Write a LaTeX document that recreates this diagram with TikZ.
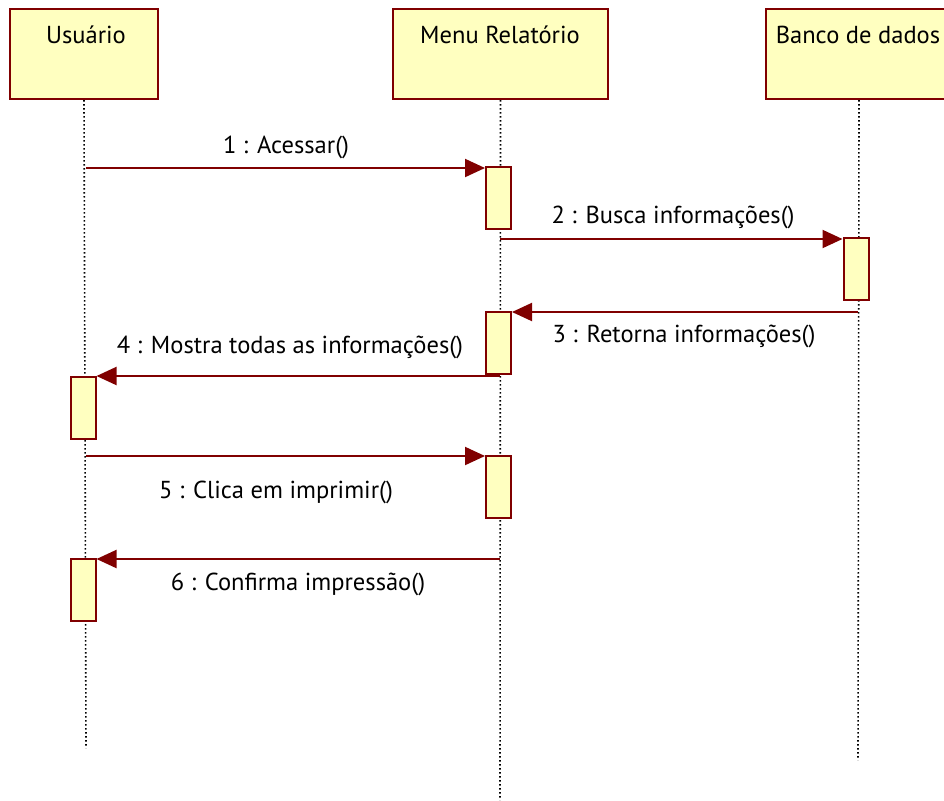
\documentclass[tikz,border=0pt]{standalone}
\usepackage{fontspec}
\setmainfont{PT Sans}
\usetikzlibrary{arrows.meta}
\definecolor{umlred}{HTML}{800000}
\definecolor{umlfill}{HTML}{FFFFC0}

\begin{document}
\begin{tikzpicture}[x=0.75pt, y=-0.75pt,
	obj/.style={draw=umlred, fill=umlfill, line width=1.5pt, minimum height=67.5pt, inner sep=0pt, anchor=north west},
	act/.style={draw=umlred, fill=umlfill, line width=1.5pt, minimum width=18.75pt, minimum height=46.5pt, inner sep=0pt, anchor=north},
	life/.style={line width=1.2pt, dash pattern=on 1.2pt off 1.8pt},
	msg/.style={draw=umlred, line width=1.5pt, -{Triangle[length=15pt, width=13.5pt]}},
	txt/.style={font=\fontsize{18.4pt}{20pt}\selectfont, inner sep=0pt}]
	\useasboundingbox (0,0) rectangle (944,800);
	\clip (0,0) rectangle (944,800);

	% objects
	\node[obj, minimum width=111pt] (usr) at (9,8) {};
	\node[obj, minimum width=161.25pt] (menu) at (392,8) {};
	\node[obj, minimum width=139.5pt] (banco) at (765,8) {};
	\node[txt] (usrname) at (86,35) {Usuário};
	\node[txt] (menuname) at (500,35) {Menu Relatório};
	\node[txt] (banconame) at (858,35) {Banco de dados};

	% lifelines
	\coordinate (usrend) at (86,748);
	\coordinate (menuend) at (500,800);
	\coordinate (bancoend) at (858,760);
	\draw[life] (usr.south) -- (usrend);
	\draw[life] (menu.south) -- (menuend);
	\draw[life] (banco.south) -- (bancoend);

	% activations
	\node[act] (a1) at (498.5,166) {};
	\node[act] (a2) at (856,237) {};
	\node[act] (a3) at (498.5,311) {};
	\node[act] (a4) at (83,376) {};
	\node[act] (a5) at (498.5,455) {};
	\node[act] (a6) at (83,558) {};

	% messages
	\coordinate (m1) at (86,168);
	\coordinate (m2) at (500,239);
	\coordinate (m3) at (858,312);
	\coordinate (m4) at (500,376);
	\coordinate (m5) at (86,456);
	\coordinate (m6) at (500,559);
	\draw[msg] (m1) -- (m1 -| a1.west);
	\draw[msg] (m2) -- (m2 -| a2.west);
	\draw[msg] (m3) -- (m3 -| a3.east);
	\draw[msg] (m4) -- (m4 -| a4.east);
	\draw[msg] (m5) -- (m5 -| a5.west);
	\draw[msg] (m6) -- (m6 -| a6.east);

	\node[txt] (l1) at (286,147) {1 : Acessar()};
	\node[txt] (l2) at (673,217) {2 : Busca informações()};
	\node[txt] (l3) at (684,336) {3 : Retorna informações()};
	\node[txt] (l4) at (290,347) {4 : Mostra todas as informações()};
	\node[txt] (l5) at (276,492) {5 : Clica em imprimir()};
	\node[txt] (l6) at (298,584) {6 : Confirma impressão()};
\end{tikzpicture}
\end{document}
